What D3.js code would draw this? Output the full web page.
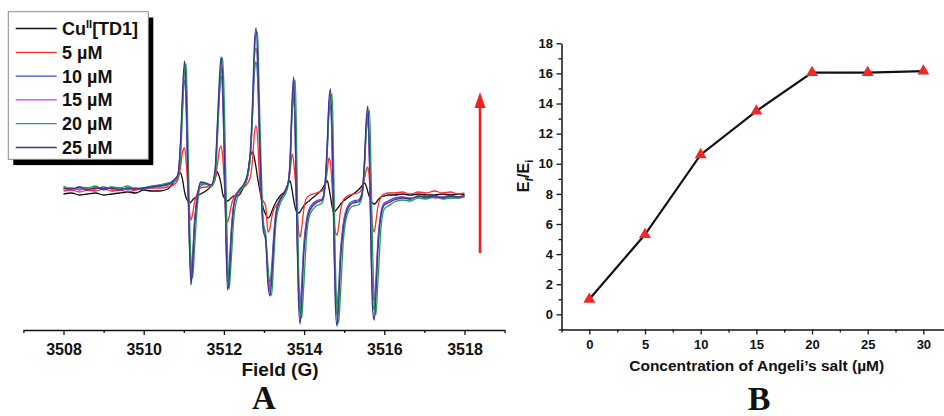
<!DOCTYPE html>
<html><head><meta charset="utf-8">
<script src="https://cdn.jsdelivr.net/npm/d3@7"></script>
<style>
body{margin:0;background:#fff}
svg{display:block}
text{font-family:"Liberation Sans",Arial,sans-serif;font-weight:bold;fill:#111}
</style>
</head><body>
<svg id="c" width="944" height="416"></svg>
<script>
// ---------- Panel A : EPR spectra ----------
const field = [
 3508.0,3508.2,3508.4,3508.6,3508.8,3509.0,3509.2,3509.4,3509.6,3509.8,3510.0,3510.2,3510.4,3510.6,
 3510.75,3510.85,3510.92,3510.97,3511.02,3511.06,3511.10,3511.14,3511.18,3511.22,3511.27,3511.33,3511.42,3511.55,3511.68,3511.78,
 3511.83,3511.88,3511.93,3511.97,3512.01,3512.05,3512.09,3512.13,3512.18,3512.25,3512.35,3512.48,3512.58,3512.66,3512.72,3512.76,
 3512.80,3512.84,3512.88,3512.93,3512.98,3513.04,3513.10,3513.15,3513.19,3513.24,3513.30,3513.40,3513.52,3513.60,3513.65,3513.70,
 3513.74,3513.78,3513.82,3513.86,3513.90,3513.94,3513.99,3514.06,3514.15,3514.30,3514.45,3514.52,3514.58,3514.62,
 3514.66,3514.70,3514.74,3514.78,3514.82,3514.86,3514.91,3514.98,3515.08,3515.22,3515.35,3515.44,3515.50,3515.55,
 3515.59,3515.63,3515.67,3515.71,3515.75,3515.79,3515.84,3515.92,3516.00,3516.10,
 3516.25,3516.45,3516.65,3516.85,3517.05,3517.25,3517.45,3517.65,3517.85,3518.00
];
const sigCu = [
 -2,-1,-3,-2,-1,-3,-2,-1,0,-1,2,1,1,3,
 10,16,19,12,0,-6,-9,-11,-10,-8,-6,-4,-2,1,6,14,
 20,16,8,-2,-6,-8,-9,-8,-6,-4,-4,4,14,36,40,34,
 25,14,5,-6,-16,-22,-26,-24,-20,-15,-10,-4,1,8,11,2,
 -8,-16,-20,-21,-20,-17,-14,-11,-8,-3,3,8,11,4,
 -5,-15,-20,-19,-17,-15,-12,-9,-6,-2,2,6,9,6,
 0,-5,-9,-11,-12,-11,-8,-5,-4,-3,
 -3,-2,-3,-2,-3,-3,-2,-3,-2,-3
];
const sig5 = [
 1,2,0,2,1,3,1,2,0,2,3,4,4,5,
 7,12,25,40,44,30,5,-18,-28,-22,-10,-2,4,5,6,12,
 25,40,46,35,10,-20,-30,-25,-14,-5,0,4,8,15,35,58,
 66,55,20,-5,-9,-14,-40,-36,-26,-18,-14,-8,0,8,20,38,
 30,12,-15,-38,-45,-36,-18,-6,-3,-1,1,6,22,34,
 28,5,-25,-40,-43,-35,-18,-8,-4,-2,-1,3,12,22,
 25,12,-15,-35,-40,-30,-15,-5,-2,-1,
 -1,0,-2,0,-1,1,-1,0,-2,-1
];
const sig10 = [
 3,4,2,4,3,5,3,4,2,4,3,5,6,7,
 10,15,45,88,112,84,14,-45,-80,-63,-28,-6,8,8,6,18,
 52,92,116,96,36,-37,-84,-76,-41,-11,0,6,14,36,82,118,
 130,115,60,2,-32,-41,-80,-90,-76,-45,-20,-7,0,8,27,78,
 97,53,-32,-92,-112,-92,-54,-28,-15,-9,-7,6,44,78,
 87,44,-32,-96,-114,-96,-58,-31,-15,-9,-8,-2,23,61,
 73,31,-49,-100,-109,-88,-49,-20,-11,-9,
 -6,-5,-7,-4,-6,-5,-5,-4,-6,-4
];
const sig15 = [
 4,2,4,3,5,3,5,2,4,3,4,4,7,8,
 11,16,48,94,120,90,15,-49,-86,-67,-30,-7,9,8,6,20,
 57,99,124,103,39,-40,-90,-81,-44,-12,0,6,15,38,88,135,
 144,125,66,2,-35,-44,-86,-96,-81,-49,-21,-7,0,8,29,85,
 105,57,-35,-99,-121,-99,-58,-30,-17,-10,-7,6,48,85,
 94,48,-35,-104,-123,-104,-63,-33,-17,-10,-9,-3,25,66,
 79,34,-53,-108,-118,-95,-53,-21,-12,-10,
 -7,-5,-6,-5,-4,-6,-5,-6,-5,-4
];
const sig20 = [
 6,3,5,4,6,2,5,4,6,3,4,6,7,9,
 10,14,35,80,125,128,60,-20,-70,-86,-55,-18,6,8,5,15,
 45,90,125,134,90,10,-60,-97,-70,-25,-4,5,14,35,85,135,
 158,160,100,25,-28,-45,-75,-100,-103,-70,-30,-12,-3,6,25,80,
 105,112,30,-70,-115,-126,-95,-45,-22,-14,-11,3,42,85,
 95,98,20,-70,-120,-131,-100,-48,-22,-14,-13,-6,20,60,
 75,82,20,-60,-110,-123,-90,-35,-17,-14,
 -10,-8,-9,-6,-7,-5,-7,-6,-6,-5
];
const sig25 = [
 4,3,5,2,4,3,4,2,4,3,4,5,6,8,
 12,17,52,102,131,97,17,-53,-93,-73,-33,-8,10,9,7,22,
 62,107,135,112,42,-43,-98,-88,-48,-13,0,7,17,42,97,147,
 164,137,72,2,-38,-48,-93,-104,-88,-53,-23,-8,0,9,32,92,
 115,62,-38,-108,-132,-108,-63,-33,-18,-11,-8,7,52,92,
 103,52,-38,-113,-134,-113,-68,-36,-18,-11,-10,-3,27,72,
 86,37,-58,-118,-128,-103,-58,-23,-13,-11,
 -8,-6,-7,-4,-5,-4,-6,-4,-5,-3
];
const legendLabels = ["Cu|II|[TD1]","5 µM","10 µM","15 µM","20 µM","25 µM"];
const fieldMajor = [3508,3510,3512,3514,3516,3518];
const fieldMinor = [3507,3509,3511,3513,3515,3517,3519];

// ---------- Panel B : Ef/Ei vs concentration ----------
const conc  = [0,5,10,15,20,25,30];
const ratio = [1.0,5.3,10.6,13.5,16.05,16.05,16.15];
const concMajor = [0,5,10,15,20,25,30];
const concMinor = [-2.5,2.5,7.5,12.5,17.5,22.5,27.5,32.5];
const ratioMajor = [0,2,4,6,8,10,12,14,16,18];
const ratioMinor = [-1,1,3,5,7,9,11,13,15,17];

const colors = ["#111111","#ff2a2a","#3a4fd0","#c844c8","#22a04a","#3b3796"];
const spectra = [sigCu,sig5,sig10,sig15,sig20,sig25];

const svg = d3.select("#c");
svg.append("rect").attr("width",944).attr("height",416).attr("fill","#fff");

// ===== Panel A =====
const xA = d3.scaleLinear().domain([3507,3519]).range([23.4,504.6]);
const yA = d3.scaleLinear().domain([-140,192]).range([332,0]);
const axisYA = 330;

const line = d3.line().x((d,i)=>xA(field[i])).y(d=>yA(d)).curve(d3.curveMonotoneX);
svg.append("g").selectAll("path").data(spectra).join("path")
  .attr("d",d=>line(d)).attr("fill","none")
  .attr("stroke",(d,i)=>colors[i]).attr("stroke-width",1.3).attr("stroke-linejoin","round");

const gAmin = svg.append("g").attr("transform",`translate(0,${axisYA})`)
  .call(d3.axisBottom(xA).tickValues(fieldMinor).tickSize(3).tickFormat(""));
gAmin.select(".domain").remove();
const gA = svg.append("g").attr("transform",`translate(0,${axisYA})`)
  .call(d3.axisBottom(xA).tickValues(fieldMajor).tickSize(5).tickSizeOuter(0).tickPadding(8.5).tickFormat(d3.format("d")));
gA.selectAll("text").style("font-size","16px").attr("fill","#111");

svg.append("text").attr("x",280).attr("y",375.5).attr("text-anchor","middle")
  .style("font-size","19px").text("Field (G)");

// arrow
svg.append("line").attr("x1",480).attr("x2",480).attr("y1",253).attr("y2",106)
  .attr("stroke","#f02020").attr("stroke-width",2.6);
svg.append("path").attr("d","M480,92 L474.5,108 L485.5,108 Z").attr("fill","#f02020");

// legend
const lg = svg.append("g");
lg.append("rect").attr("x",13.3).attr("y",17.5).attr("width",140).attr("height",147.6).attr("fill","#000");
lg.append("rect").attr("x",8.3).attr("y",11.7).attr("width",140).attr("height",147.6)
  .attr("fill","#fff").attr("stroke","#8a8a8a").attr("stroke-width",1);
legendLabels.forEach((lab,i)=>{
  const by = 35 + i*23.8;
  lg.append("line").attr("x1",15.7).attr("x2",56.7).attr("y1",by-6.5).attr("y2",by-6.5)
    .attr("stroke",colors[i]).attr("stroke-width",1.3);
  const t = lg.append("text").attr("x",62).attr("y",by).style("font-size","18px");
  const parts = lab.split("|");
  if(parts.length===3){
    t.append("tspan").text(parts[0]);
    t.append("tspan").attr("dy",-7).style("font-size","11px").text(parts[1]);
    t.append("tspan").attr("dy",7).text(parts[2]);
  } else t.text(lab);
});

svg.append("text").attr("x",264).attr("y",409).attr("text-anchor","middle")
  .style("font-family","'Liberation Serif','Times New Roman',serif").style("font-size","33px").text("A");

// ===== Panel B =====
const xB = d3.scaleLinear().domain([-2.5,32.5]).range([561.5,951.2]);
const yB = d3.scaleLinear().domain([-1,18]).range([329.4,43.3]);

const gBxMin = svg.append("g").attr("transform",`translate(0,${yB(-1)})`)
  .call(d3.axisBottom(xB).tickValues(concMinor).tickSize(3).tickFormat(""));
gBxMin.select(".domain").remove();
const gBx = svg.append("g").attr("transform",`translate(0,${yB(-1)})`)
  .call(d3.axisBottom(xB).tickValues(concMajor).tickSize(5).tickSizeOuter(0).tickPadding(5));
gBx.selectAll("text").style("font-size","13px").attr("fill","#111");

const gByMin = svg.append("g").attr("transform",`translate(${xB(-2.5)},0)`)
  .call(d3.axisLeft(yB).tickValues(ratioMinor).tickSize(3).tickFormat(""));
gByMin.select(".domain").remove();
const gBy = svg.append("g").attr("transform",`translate(${xB(-2.5)},0)`)
  .call(d3.axisLeft(yB).tickValues(ratioMajor).tickSize(5).tickSizeOuter(0).tickPadding(3.5));
gBy.selectAll("text").style("font-size","13px").attr("fill","#111");

svg.selectAll(".domain").attr("stroke","#111").attr("stroke-width",1.5);
svg.selectAll(".tick line").attr("stroke","#111").attr("stroke-width",1.3);

const pts = conc.map((c,i)=>[c,ratio[i]]);
svg.append("path").attr("d",d3.line().x(d=>xB(d[0])).y(d=>yB(d[1]))(pts))
  .attr("fill","none").attr("stroke","#111").attr("stroke-width",2.2);
svg.append("g").selectAll("path").data(pts).join("path")
  .attr("transform",d=>`translate(${xB(d[0])},${yB(d[1])})`)
  .attr("d",d3.symbol(d3.symbolTriangle,62)).attr("fill","#f02828");

const yl = svg.append("text").attr("transform","translate(529,176) rotate(-90)")
  .attr("text-anchor","middle").style("font-size","16px");
yl.append("tspan").text("E");
yl.append("tspan").attr("dy",4).style("font-size","11px").style("font-style","italic").text("f");
yl.append("tspan").attr("dy",-4).text("/E");
yl.append("tspan").attr("dy",4).style("font-size","11px").text("i");

svg.append("text").attr("x",756.7).attr("y",371).attr("text-anchor","middle")
  .style("font-size","15.5px").text("Concentration of Angeli\u2019s salt (µM)");

svg.append("text").attr("x",759).attr("y",409.5).attr("text-anchor","middle")
  .style("font-family","'Liberation Serif','Times New Roman',serif").style("font-size","34px").text("B");
</script>
</body></html>
